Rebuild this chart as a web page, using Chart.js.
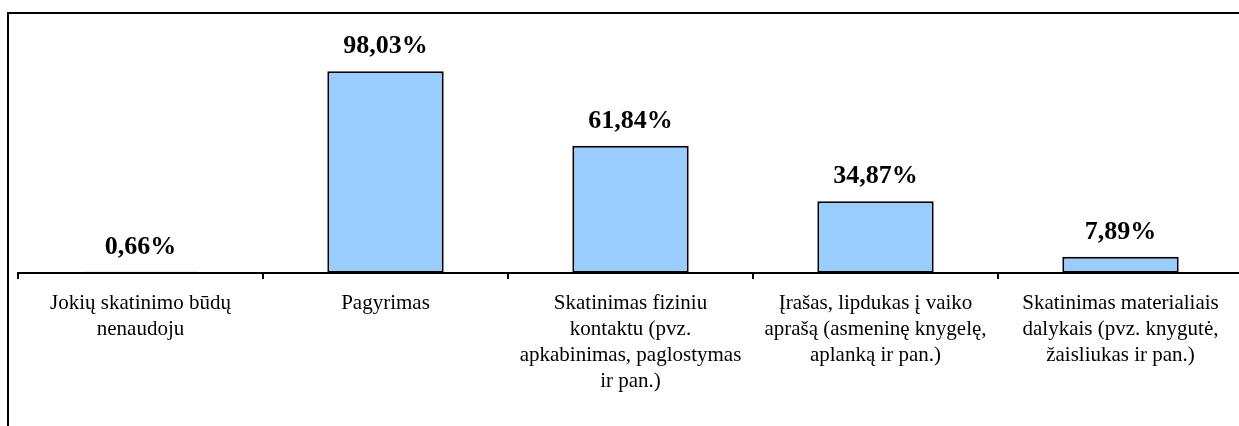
<!DOCTYPE html>
<html>
<head>
<meta charset="utf-8">
<script src="https://cdn.jsdelivr.net/npm/chart.js@4.4.1/dist/chart.umd.min.js"></script>
<style>
    html, body { margin: 0; padding: 0; background: #fff; overflow: hidden; width: 1239px; height: 426px; }
    #frame { position: absolute; left: 7px; top: 12px; width: 1400px; height: 600px; border: 2px solid #000; }
    #wrap { position: absolute; left: 0; top: 0; width: 1268px; height: 426px; }
</style>
</head>
<body>
<div id="frame"></div>
<div id="wrap"><canvas id="chart"></canvas></div>
<script>
const categories = [
    ['Jokių skatinimo būdų', 'nenaudoju'],
    ['Pagyrimas'],
    ['Skatinimas fiziniu', 'kontaktu (pvz.', 'apkabinimas, paglostymas', 'ir pan.)'],
    ['Įrašas, lipdukas į vaiko', 'aprašą (asmeninę knygelę,', 'aplanką ir pan.)'],
    ['Skatinimas materialiais', 'dalykais (pvz. knygutė,', 'žaisliukas ir pan.)']
];
const values = [0.66, 98.03, 61.84, 34.87, 7.89];

const SERIF = '"Liberation Serif", "Times New Roman", serif';

// percent labels above the bars, comma as decimal mark
const valueLabels = {
    id: 'valueLabels',
    afterDatasetsDraw(chart) {
        const { ctx } = chart;
        const meta = chart.getDatasetMeta(0);
        ctx.save();
        ctx.font = 'bold 26px ' + SERIF;
        ctx.fillStyle = '#000';
        ctx.textAlign = 'center';
        ctx.textBaseline = 'alphabetic';
        meta.data.forEach((bar, i) => {
            const txt = values[i].toFixed(2).replace('.', ',') + '%';
            ctx.fillText(txt, bar.x, bar.y - 18);
        });
        ctx.restore();
    }
};

new Chart(document.getElementById('chart'), {
    type: 'bar',
    data: {
        labels: categories,
        datasets: [{
            data: values,
            backgroundColor: '#99ccff',
            borderColor: '#000',
            borderWidth: 2,
            borderSkipped: false,
            categoryPercentage: 1,
            barPercentage: 0.475
        }]
    },
    options: {
        responsive: true,
        maintainAspectRatio: false,
        animation: false,
        layout: { padding: { left: 18, right: 25, top: 26, bottom: 0 } },
        plugins: {
            legend: { display: false },
            tooltip: { enabled: false }
        },
        scales: {
            x: {
                grid: {
                    offset: true,
                    drawOnChartArea: false,
                    drawTicks: true,
                    tickLength: 6,
                    color: '#000',
                    lineWidth: 2
                },
                border: { display: true, color: '#000', width: 2 },
                ticks: {
                    autoSkip: false,
                    maxRotation: 0,
                    minRotation: 0,
                    padding: 11,
                    color: '#000',
                    font: { family: SERIF, size: 21, lineHeight: 1.24 }
                },
                afterFit(scale) { scale.height = 153; }
            },
            y: {
                display: false,
                min: 0,
                max: 120
            }
        }
    },
    plugins: [valueLabels]
});
</script>
</body>
</html>
